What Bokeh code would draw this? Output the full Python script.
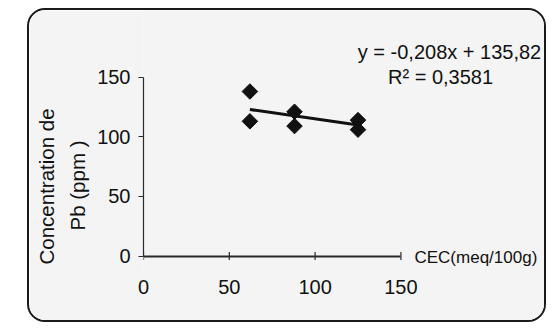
import numpy as np
from bokeh.plotting import figure
from bokeh.models import Label, Title, LinearAxis, FixedTicker
from bokeh.embed import file_html
from bokeh.resources import INLINE

# Data
cec = [62, 62, 88, 88, 125, 125]
pb = [138, 113, 121, 109, 114, 106]
slope = -0.208
intercept = 135.82
x_ticks = [0, 50, 100, 150]
y_ticks = [0, 50, 100, 150]
eq_text = "y = -0,208x + 135,82"
r2_text = "R² = 0,3581"
x_title = "CEC(meq/100g)"
y_title = ["Concentration de", "Pb (ppm )"]

FONT = "Liberation Sans"
INK = "#111111"
AXC = "#2a2a2a"
BG = "#f4f4f4"

p = figure(width=519, height=314, x_range=(0, 236.0), y_range=(-13.84, 205.96),
           output_backend="svg", toolbar_location=None,
           min_border_left=114, min_border_right=0,
           min_border_top=0, min_border_bottom=52,
           background_fill_color=BG, border_fill_color=BG,
           styles={"margin-left": "27px", "margin-top": "8px",
                   "border": "2px solid #1a1a1a",
                   "border-radius": "18px", "overflow": "hidden"})
p.outline_line_color = None
p.grid.visible = False

# trendline from equation over data range
tx = np.array([min(cec), max(cec)])
ty = slope * tx + intercept
p.line(tx, ty, line_color=INK, line_width=3)

p.scatter(cec, pb, marker="square", angle=np.pi / 4, size=11,
          fill_color=INK, line_color=INK)

# x axis line at y=0 (inside the frame), tick marks as dashes
xa = p.xaxis[0]
xa.fixed_location = 0
xa.ticker = FixedTicker(ticks=[])
xa.bounds = (0, 150)
xa.axis_line_width = 2
xa.axis_line_color = AXC
xa.minor_tick_line_color = None
p.scatter(x_ticks, [0] * len(x_ticks), marker="dash", angle=np.pi / 2, size=8,
          line_color=AXC, line_width=1.2)

# x tick labels (axis in the bottom panel)
xl = LinearAxis(ticker=x_ticks, axis_line_color=None, major_tick_line_color=None,
                minor_tick_line_color=None, major_label_standoff=1,
                major_label_text_font=FONT, major_label_text_font_size="20px",
                major_label_text_color=INK)
p.add_layout(xl, "below")

ya = p.yaxis[0]
ya.ticker = y_ticks
ya.bounds = (0, 150)
ya.axis_line_color = AXC
ya.axis_line_width = 1.2
ya.major_tick_line_color = AXC
ya.minor_tick_line_color = None
ya.major_tick_in = 0
ya.major_tick_out = 5
ya.major_label_standoff = 8
ya.major_label_text_font = FONT
ya.major_label_text_font_size = "20px"
ya.major_label_text_color = INK

# y title: two lines
p.add_layout(Title(text=y_title[1], align="left", offset=42, standoff=12,
                   text_font=FONT, text_font_size="20.5px", text_color=INK,
                   text_font_style="normal"), "left")
p.add_layout(Title(text=y_title[0], align="left", offset=8, standoff=0,
                   text_font=FONT, text_font_size="20.5px", text_color=INK,
                   text_font_style="normal"), "left")

def lab(x, y, t, size="20px", **kw):
    p.add_layout(Label(x=x, y=y, text=t, text_font=FONT, text_font_size=size,
                       text_color=INK, **kw))

lab(178.3, 171.1, eq_text, text_align="center", text_baseline="middle")
lab(173.1, 150.0, r2_text, text_align="center", text_baseline="middle")
lab(157.9, -1.26, x_title, size="17px", text_align="left", text_baseline="middle")

open("out.html", "w").write(file_html(p, INLINE))
